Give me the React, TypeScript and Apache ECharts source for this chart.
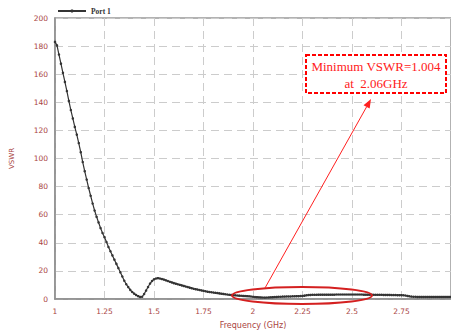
import React, { useEffect, useRef } from "react";
import * as echarts from "echarts";

// Frequency sampling (GHz)
const fStart = 1.0;
const fStep = 0.01;

// VSWR values, one per 0.01 GHz from 1.00 to 3.00 GHz
const vswr: number[] = [
  183, 180.5, 174, 167.5, 161, 154.5, 148, 141, 134.5, 128.5,
  122.5, 117, 111, 104.5, 97.5, 91, 85, 79, 73.5, 68,
  63, 58.5, 54.5, 50.5, 47, 44, 40.5, 37, 34, 31,
  28, 25, 22, 19, 16, 13, 10.5, 8.5, 6.5, 5,
  3.8, 2.8, 2, 1.5, 1.6, 3.5, 6, 8.5, 11, 12.8,
  14, 14.6, 14.8, 14.6, 14.2, 13.8, 13.3, 12.8, 12.3, 11.8,
  11.3, 10.9, 10.5, 10.1, 9.7, 9.3, 8.9, 8.5, 8.1, 7.7,
  7.3, 7, 6.7, 6.4, 6.1, 5.8, 5.5, 5.2, 5, 4.8,
  4.6, 4.4, 4.2, 4.0, 3.8, 3.6, 3.4, 3.2, 3.0, 2.9,
  2.7, 2.6, 2.5, 2.4, 2.3, 2.2, 2.1, 2.0, 1.9, 1.8,
  1.6, 1.4, 1.3, 1.2, 1.1, 1.05, 1.004, 1.05, 1.1, 1.2,
  1.3, 1.4, 1.5, 1.6, 1.6, 1.7, 1.7, 1.8, 1.8, 1.8,
  1.9, 1.9, 2.0, 2.0, 2.1, 2.2, 2.4, 2.6, 2.8, 2.9,
  3.0, 3.0, 3.0, 3.1, 3.1, 3.1, 3.1, 3.1, 3.1, 3.1,
  3.1, 3.1, 3.2, 3.2, 3.2, 3.2, 3.2, 3.2, 3.2, 3.2,
  3.2, 3.2, 3.2, 3.2, 3.2, 3.2, 3.1, 3.1, 3.1, 3.1,
  3.1, 3.0, 3.0, 3.0, 3.0, 3.0, 2.9, 2.9, 2.9, 2.9,
  2.8, 2.8, 2.8, 2.7, 2.7, 2.7, 2.6, 2.5, 2.2, 1.9,
  1.7, 1.6, 1.6, 1.5, 1.5, 1.5, 1.5, 1.5, 1.5, 1.5,
  1.5, 1.5, 1.5, 1.5, 1.5, 1.5, 1.5, 1.5, 1.5, 1.5,
  1.5,
];

const seriesName = "Port 1";
const noteLine1 = "Minimum VSWR=1.004";
const noteLine2 = "at  2.06GHz";

const labelColor = "#a94442";

export default function App() {
  const ref = useRef<HTMLDivElement>(null);

  useEffect(() => {
    if (!ref.current) return;
    const chart = echarts.init(ref.current, null, { renderer: "svg" });
    const data = vswr.map((v, i) => [+(fStart + i * fStep).toFixed(2), v]);

    // arrow geometry (annotation)
    const ax0 = 265, ay0 = 288, ax1 = 371, ay1 = 99;
    const dx = ax1 - ax0, dy = ay1 - ay0;
    const len = Math.sqrt(dx * dx + dy * dy);
    const ux = dx / len, uy = dy / len;
    const hl = 9, hw = 3.5;
    const bx = ax1 - hl * ux, by = ay1 - hl * uy;
    const px = -uy, py = ux;

    chart.setOption({
      animation: false,
      backgroundColor: "#ffffff",
      grid: {
        left: 55,
        right: -2,
        top: 18,
        bottom: 34,
        show: true,
        borderColor: "#999999",
        borderWidth: 1.5,
      },
      legend: {
        left: 52,
        top: 2,
        itemWidth: 28,
        itemHeight: 4,
        textStyle: {
          fontFamily: "Liberation Serif",
          fontWeight: "bold",
          fontSize: 7.5,
          color: "#333",
        },
        data: [seriesName],
      },
      xAxis: {
        type: "value",
        min: 1,
        max: 3,
        interval: 0.25,
        name: "Frequency (GHz)",
        nameLocation: "middle",
        nameGap: 22,
        nameTextStyle: { fontFamily: "DejaVu Sans", fontSize: 8, color: labelColor },
        axisLine: { lineStyle: { color: "#8c8c8c", width: 1.5 } },
        axisTick: { show: false },
        axisLabel: {
          fontFamily: "DejaVu Sans",
          fontSize: 7.5,
          color: labelColor,
          margin: 8,
          showMaxLabel: false,
          formatter: (v: number) => String(+v.toFixed(2)),
        },
        splitLine: {
          show: true,
          lineStyle: { color: "#cccccc", type: [8, 5], width: 1 },
        },
      },
      yAxis: {
        type: "value",
        min: 0,
        max: 200,
        interval: 20,
        name: "VSWR",
        nameLocation: "middle",
        nameGap: 40,
        nameTextStyle: { fontFamily: "DejaVu Sans", fontSize: 7, color: labelColor },
        axisLine: { show: true, lineStyle: { color: "#8c8c8c", width: 1.5 } },
        axisTick: { show: false },
        axisLabel: {
          fontFamily: "DejaVu Sans",
          fontSize: 7.5,
          color: labelColor,
          margin: 7,
        },
        splitLine: {
          show: true,
          lineStyle: { color: "#cccccc", type: [8, 5], width: 1 },
        },
      },
      series: [
        {
          name: seriesName,
          type: "line",
          data,
          symbol: "circle",
          symbolSize: 2.5,
          showAllSymbol: true,
          itemStyle: { color: "#333333" },
          lineStyle: { color: "#333333", width: 1.2 },
        },
      ],
      graphic: [
        {
          type: "ellipse",
          shape: { cx: 302, cy: 295.5, rx: 70, ry: 8.5 },
          style: { fill: "none", stroke: "#d42020", lineWidth: 2 },
          z: 100,
        },
        {
          type: "line",
          shape: { x1: ax0, y1: ay0, x2: bx, y2: by },
          style: { stroke: "#ff2020", lineWidth: 1 },
          z: 100,
        },
        {
          type: "polygon",
          shape: {
            points: [
              [ax1, ay1],
              [bx + hw * px, by + hw * py],
              [bx - hw * px, by - hw * py],
            ],
          },
          style: { fill: "#ff2020" },
          z: 100,
        },
        {
          type: "rect",
          shape: { x: 306, y: 55, width: 140, height: 38 },
          style: {
            fill: "#ffffff",
            stroke: "#ff0000",
            lineWidth: 2,
            lineDash: [4, 2],
          },
          z: 100,
        },
        {
          type: "text",
          x: 376,
          y: 66,
          style: {
            text: noteLine1,
            fontFamily: "Liberation Serif",
            fontSize: 13,
            fill: "#ff2020",
            align: "center",
            verticalAlign: "middle",
          },
          z: 101,
        },
        {
          type: "text",
          x: 376,
          y: 83,
          style: {
            text: noteLine2,
            fontFamily: "Liberation Serif",
            fontSize: 13,
            fill: "#ff2020",
            align: "center",
            verticalAlign: "middle",
          },
          z: 101,
        },
      ],
    });
    return () => chart.dispose();
  }, []);

  return (
    <div
      ref={ref}
      style={{ position: "absolute", left: 0, top: 0, width: 451, height: 334 }}
    />
  );
}
